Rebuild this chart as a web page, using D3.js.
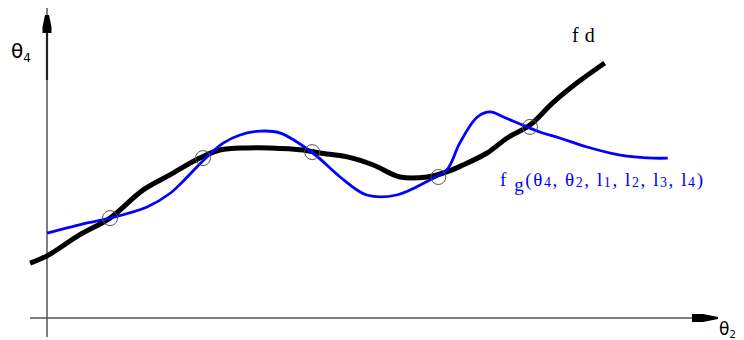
<!DOCTYPE html>
<html><head><meta charset="utf-8">
<script src="https://cdn.jsdelivr.net/npm/d3@7"></script>
<style>html,body{margin:0;padding:0;background:#fff}svg{display:block}</style>
</head><body>
<svg id="c" width="744" height="340"></svg>
<script>
// desired function f_d (black)
const fdX = [-0.26, 0, 0.5, 0.97, 1.48, 1.89, 2.35, 2.66, 3.08, 3.43, 3.94, 4.2, 4.62, 5.02, 5.43, 5.85, 6.15, 6.4, 6.77, 7.08, 7.43, 7.78, 8.15, 8.58];
const fdY = [1.83, 2.07, 2.77, 3.33, 4.27, 4.77, 5.33, 5.6, 5.67, 5.67, 5.6, 5.5, 5.37, 5.1, 4.7, 4.7, 4.87, 5.1, 5.5, 6.0, 6.43, 7.17, 7.83, 8.5];
// generated function f_g (blue)
const fgX = [0, 0.62, 0.97, 1.54, 1.89, 2.09, 2.46, 2.71, 2.97, 3.28, 3.58, 4.09, 4.51, 4.92, 5.38, 5.89, 6.15, 6.35, 6.62, 6.82, 7.02, 7.32, 7.58, 7.89, 8.31, 8.82, 9.32, 9.55];
const fgY = [2.83, 3.17, 3.33, 3.7, 4.15, 4.55, 5.37, 5.83, 6.1, 6.23, 6.17, 5.5, 4.7, 4.1, 4.1, 4.6, 4.93, 5.83, 6.7, 6.87, 6.7, 6.43, 6.2, 6.0, 5.7, 5.43, 5.33, 5.33];
// precision points
const ppX = [0.97, 2.4, 4.08, 6.02, 7.43];
const ppY = [3.33, 5.33, 5.53, 4.7, 6.37];

const svg = d3.select('#c');
const x = d3.scaleLinear().domain([0, 10]).range([47, 697]);
const y = d3.scaleLinear().domain([0, 10]).range([318, 18]);

// axes
const x0 = x(0), y0 = y(0);
svg.append('line').attr('x1', x0).attr('x2', x0).attr('y1', 8).attr('y2', 337)
  .attr('stroke', '#555').attr('stroke-width', 1.5);
svg.append('line').attr('x1', x0).attr('x2', x0).attr('y1', 33).attr('y2', 80)
  .attr('stroke', '#222').attr('stroke-width', 2.2);
svg.append('path').attr('d', `M${x0-2},15 L${x0+2},15 L${x0+4.5},27 L${x0+4.5},33 L${x0-4.5},33 L${x0-4.5},27 Z`).attr('fill', '#000');

svg.append('line').attr('x1', 30).attr('x2', 718).attr('y1', y0).attr('y2', y0)
  .attr('stroke', '#555').attr('stroke-width', 1.5);
svg.append('path').attr('d', `M692,${y0-4} L703,${y0-4} L718,${y0-1} L718,${y0+1} L703,${y0+4} L692,${y0+4} Z`).attr('fill', '#000');

const line = d3.line().x(d => x(d[0])).y(d => y(d[1])).curve(d3.curveCatmullRom.alpha(0.5));

svg.append('path').datum(fdX.map((v, i) => [v, fdY[i]])).attr('d', line)
  .attr('fill', 'none').attr('stroke', '#000').attr('stroke-width', 5).attr('stroke-linejoin', 'round');
svg.append('path').datum(fgX.map((v, i) => [v, fgY[i]])).attr('d', line)
  .attr('fill', 'none').attr('stroke', '#0000ff').attr('stroke-width', 2.8).attr('stroke-linejoin', 'round');

svg.selectAll('circle.pp').data(ppX.map((v, i) => [v, ppY[i]])).join('circle')
  .attr('class', 'pp').attr('cx', d => x(d[0])).attr('cy', d => y(d[1])).attr('r', 7.5)
  .attr('fill', 'none').attr('stroke', '#555').attr('stroke-width', 1);

// labels
const serif = "'Liberation Serif','DejaVu Serif',serif";
const t4 = svg.append('text').attr('x', 11).attr('y', 58).attr('font-family', "'DejaVu Sans',sans-serif").attr('font-size', 20).attr('fill', '#000');
t4.append('tspan').text('θ');
t4.append('tspan').attr('font-size', 12).attr('dy', 4).text('4');

const t2 = svg.append('text').attr('x', 719).attr('y', 335).attr('font-family', "'DejaVu Sans',sans-serif").attr('font-size', 17).attr('fill', '#000');
t2.append('tspan').text('θ');
t2.append('tspan').attr('font-size', 10).attr('dy', 3).text('2');

const fd = svg.append('text').attr('x', 572).attr('y', 42).attr('font-family', serif).attr('font-size', 20).attr('fill', '#000');
fd.append('tspan').text('f');
fd.append('tspan').attr('dx', 6).text('d');

const fg = svg.append('text').attr('x', 500).attr('y', 186).attr('font-family', serif).attr('font-size', 19).attr('fill', '#0000ff')
  .attr('textLength', 203).attr('lengthAdjust', 'spacing');
const parts = [['f', 0], [' ', 0], ['g', 5], ['(θ', -5], ['4', 1], [', θ', -1], ['2', 1], [', l', -1], ['1', 1], [', l', -1], ['2', 1], [', l', -1], ['3', 1], [', l', -1], ['4', 1], [')', -1]];
parts.forEach(([s, dy], i) => {
  const sp = fg.append('tspan').attr('dy', dy).text(s);
  if (/^[1-4]$/.test(s)) sp.attr('font-size', 14);
});
</script>
</body></html>
